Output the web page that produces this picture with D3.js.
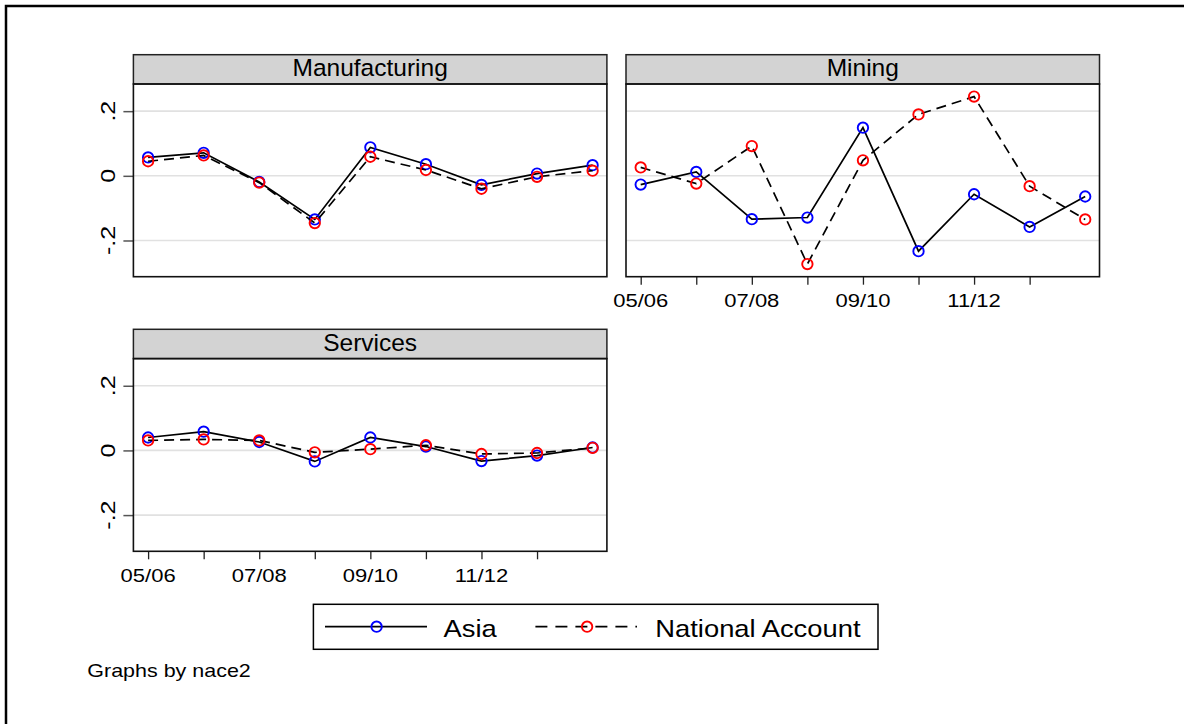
<!DOCTYPE html>
<html>
<head>
<meta charset="utf-8">
<script src="https://cdn.jsdelivr.net/npm/d3@7"></script>
<style>
  html, body { margin: 0; padding: 0; background: #fff; overflow: hidden; }
  svg { display: block; }
  text { font-family: "Liberation Sans", Arial, sans-serif; fill: #000; }
</style>
</head>
<body>
<div id="chart"></div>
<script>
// Periods on the x axis (one point per period)
const periods = ["05/06", "06/07", "07/08", "08/09", "09/10", "10/11", "11/12", "12/13", "13/14"];
const xTickPeriods = ["05/06", "06/07", "07/08", "08/09", "09/10", "10/11", "11/12", "12/13"];
const xTickLabels = ["05/06", "07/08", "09/10", "11/12"];
const yTicks = [-0.2, 0, 0.2];
const yTickLabels = ["-.2", "0", ".2"];

const sectors = ["Manufacturing", "Mining", "Services"];
const seriesNames = ["Asia", "National Account"];

// values
const manufAsia = [0.057, 0.071, -0.019, -0.135, 0.088, 0.036, -0.028, 0.007, 0.033];
const manufNA   = [0.045, 0.063, -0.021, -0.146, 0.059, 0.018, -0.040, -0.003, 0.016];
const miningAsia = [-0.027, 0.012, -0.134, -0.129, 0.149, -0.233, -0.057, -0.158, -0.064];
const miningNA   = [0.026, -0.024, 0.092, -0.273, 0.048, 0.190, 0.245, -0.032, -0.135];
const servAsia = [0.040, 0.058, 0.026, -0.034, 0.040, 0.012, -0.033, -0.016, 0.009];
const servNA   = [0.031, 0.034, 0.031, -0.006, 0.004, 0.016, -0.011, -0.008, 0.008];

const W = 1184, H = 724;
const svg = d3.select("#chart").append("svg")
  .attr("width", W)
  .attr("height", H);

// outer frame (cut off on the right and bottom)
svg.append("path")
  .attr("d", `M6,${H} V6 H${W}`)
  .attr("fill", "none")
  .attr("stroke", "#000")
  .attr("stroke-width", 2.5);

const panelW = 473.5, headH = 29.3, plotH = 192.7;

// x and y scales shared by all panels
const x = d3.scalePoint().domain(periods).range([14.7, panelW - 14.3]);
const y = d3.scaleLinear().domain([-0.312, 0.284]).range([plotH, 0]);

const colors = { "Asia": "#0000ff", "National Account": "#ff0000" };
const dashes = { "Asia": null, "National Account": "10,6" };

function stretched(g, px, py, str, size, sx, anchor, rot) {
  return g.append("text")
    .attr("transform", `translate(${px},${py}) rotate(${rot || 0}) scale(${sx},1)`)
    .attr("text-anchor", anchor)
    .style("font-size", size + "px")
    .text(str);
}

const panels = [
  { name: sectors[0], left: 133.4, top: 54.7, series: [manufAsia, manufNA], yAxis: true, xAxis: false },
  { name: sectors[1], left: 626, top: 54.7, series: [miningAsia, miningNA], yAxis: false, xAxis: true },
  { name: sectors[2], left: 133.4, top: 329.3, series: [servAsia, servNA], yAxis: true, xAxis: true }
];

panels.forEach(p => {
  const g = svg.append("g").attr("transform", `translate(${p.left},${p.top})`);

  // strip header
  g.append("rect")
    .attr("width", panelW).attr("height", headH)
    .attr("fill", "#d3d3d3").attr("stroke", "#222").attr("stroke-width", 1.5);
  g.append("text")
    .attr("x", panelW / 2).attr("y", 21.5)
    .attr("text-anchor", "middle")
    .style("font-size", "24.5px")
    .text(p.name);

  const plot = g.append("g").attr("transform", `translate(0,${headH})`);

  // grid lines
  plot.selectAll(".grid").data(yTicks).enter().append("line")
    .attr("x1", 0).attr("x2", panelW)
    .attr("y1", d => y(d)).attr("y2", d => y(d))
    .attr("stroke", "#e1e1e1").attr("stroke-width", 1.6);

  // y axis
  if (p.yAxis) {
    const ya = plot.append("g")
      .call(d3.axisLeft(y).tickValues(yTicks).tickSize(10).tickFormat(""));
    ya.select(".domain").remove();
    ya.selectAll(".tick line").attr("stroke", "#555").attr("stroke-width", 1.5);
    yTicks.forEach((v, i) => {
      stretched(plot, -18.4, y(v), yTickLabels[i], 20, 1.25, "middle", -90);
    });
  }

  // x axis
  if (p.xAxis) {
    const xa = plot.append("g").attr("transform", `translate(0,${plotH})`)
      .call(d3.axisBottom(x).tickValues(xTickPeriods).tickSize(8).tickFormat(""));
    xa.select(".domain").remove();
    xa.selectAll(".tick line").attr("stroke", "#222").attr("stroke-width", 1.3);
    xTickLabels.forEach(lbl => {
      stretched(plot, x(lbl), plotH + 30.5, lbl, 18.5, 1.19, "middle");
    });
  }

  // series
  p.series.forEach((vals, si) => {
    const name = seriesNames[si];
    const line = d3.line().x((d, i) => x(periods[i])).y(d => y(d));
    plot.append("path")
      .datum(vals)
      .attr("d", line)
      .attr("fill", "none")
      .attr("stroke", "#000")
      .attr("stroke-width", 1.7)
      .attr("stroke-dasharray", dashes[name]);
    plot.selectAll(".m" + si).data(vals).enter().append("circle")
      .attr("cx", (d, i) => x(periods[i]))
      .attr("cy", d => y(d))
      .attr("r", 5.2)
      .attr("fill", "none")
      .attr("stroke", colors[name])
      .attr("stroke-width", 1.9);
  });

  // plot border
  plot.append("rect")
    .attr("width", panelW).attr("height", plotH)
    .attr("fill", "none").attr("stroke", "#111").attr("stroke-width", 1.6);
});

// legend
const leg = svg.append("g");
leg.append("rect")
  .attr("x", 313.4).attr("y", 604.3)
  .attr("width", 878 - 313.4).attr("height", 45)
  .attr("fill", "#fff").attr("stroke", "#000").attr("stroke-width", 1.5);

const legItems = [
  { name: seriesNames[0], x1: 325, x2: 427, mx: 376.6, tx: 443.6 },
  { name: seriesNames[1], x1: 535.4, x2: 637, mx: 587.1, tx: 655.3 }
];
legItems.forEach(it => {
  leg.append("line")
    .attr("x1", it.x1).attr("x2", it.x2)
    .attr("y1", 626.7).attr("y2", 626.7)
    .attr("stroke", "#000").attr("stroke-width", 1.7)
    .attr("stroke-dasharray", dashes[it.name] ? "12,8" : null);
  leg.append("circle")
    .attr("cx", it.mx).attr("cy", 626.7).attr("r", 5.2)
    .attr("fill", "none").attr("stroke", colors[it.name]).attr("stroke-width", 1.9);
  stretched(leg, it.tx, 636.7, it.name, 24, 1.14, "start");
});

// note
stretched(svg, 87.3, 677.3, "Graphs by nace2", 19, 1.13, "start");
</script>
</body>
</html>
